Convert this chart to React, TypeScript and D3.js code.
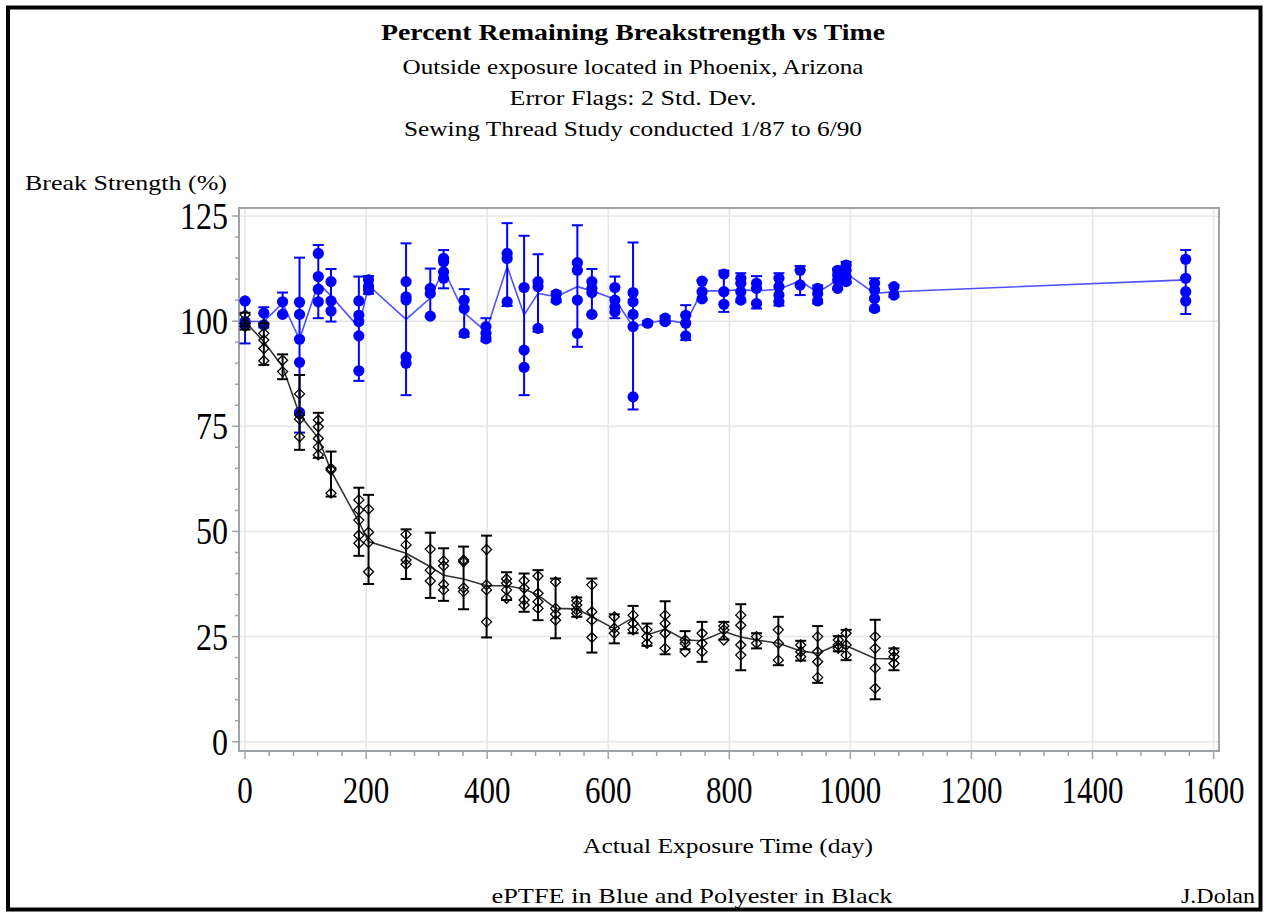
import React, { useEffect, useRef } from 'react';
import * as d3 from 'd3';

// ePTFE (blue): exposure day, mean line, error flag ends, individual specimens
const blueDays = [0, 31, 62, 90, 121, 142, 188, 204, 266, 306, 328, 362, 398, 433, 461, 484, 514, 549, 573, 611, 641, 665, 694, 728, 755, 791, 819, 845, 882, 917, 946, 979, 993, 1040, 1072, 1554];
const blueMean = [99.9, 99.9, 104.3, 95.7, 109, 106, 98.5, 108.5, 100.4, 105.5, 112.3, 102, 97.5, 113, 101.5, 106.6, 105.8, 108.2, 107.2, 105.2, 98.7, 99.5, 100.3, 99.5, 107.2, 107.2, 107.5, 107.2, 107.6, 109.6, 106.8, 109.8, 111.4, 106.6, 107, 109.8];
const blueLow = [94.7, 98.5, 101.6, 73.5, 100.7, 99.9, 85.8, 106.5, 82.4, 101, 107.8, 96.3, 95.2, 103.6, 82.4, 97.5, 104.5, 93.9, 101.5, 100.7, 79, 99, 99.5, 95.5, 105, 102.2, 104.5, 103, 103.7, 106.2, 104.2, 107.5, 109, 102.5, 105.8, 101.7];
const blueHigh = [104.9, 103.3, 106.8, 115.1, 118.1, 112.4, 110.6, 110.7, 118.5, 112.5, 116.9, 107.6, 100.7, 123.3, 120.3, 115.9, 107, 122.8, 112.4, 110.6, 118.7, 100, 101.2, 103.8, 109.8, 112, 111.4, 110.7, 111.4, 113.1, 108.5, 112.5, 114.1, 110.2, 108.6, 116.9];
const bluePoints = [
  [104.8, 99.9, 99.1], [101.9, 99.1], [104.6, 101.6], [104.5, 101.6, 95.7, 90.2, 78.3],
  [116.1, 110.6, 107.6, 104.6], [109.4, 104.8, 102.4], [104.8, 101.4, 99.9, 96.5, 88.2],
  [109.8, 108.3, 107.4], [109.4, 105.8, 105, 91.5, 90], [107.8, 106.6, 101.2],
  [114.9, 114.1, 111.7, 110.2], [105, 103, 97.1], [98.7, 97.1, 95.8], [116.1, 114.9, 104.6],
  [108, 93.1, 89], [109.4, 108.2, 98.3], [106.4, 105], [113.9, 112.1, 105, 97.1],
  [109.4, 107.8, 106.8, 101.6], [108, 105, 103.4, 102.2], [106.8, 104.6, 101.6, 98.7, 82],
  [99.5], [100.7, 99.9], [101.4, 99.5, 96.5], [109.5, 107, 105.3], [111.2, 107, 104],
  [110.2, 109, 107, 105], [109, 107.8, 104.2], [110.2, 108.2, 106.2, 104.6], [112.1, 108.6],
  [107.8, 106.6, 104.8], [112.1, 111, 109.8, 107.8], [113.3, 112.1, 110.6, 109.4],
  [109, 107.4, 105.4, 103], [108.2, 106.2], [114.7, 110.2, 107, 104.8],
];

// Polyester (black)
const blackDays = [0, 31, 62, 90, 121, 142, 188, 204, 266, 306, 328, 361, 399, 432, 461, 484, 513, 548, 573, 610, 641, 664, 694, 727, 755, 791, 819, 845, 881, 918, 946, 980, 993, 1041, 1072];
const blackMean = [99.9, 95.1, 89.2, 77.8, 72.2, 64.4, 52.3, 47.6, 44.8, 41.6, 39.6, 38.7, 37.1, 37.1, 36.3, 34.9, 31.7, 31.6, 29.7, 26.9, 29.5, 25.4, 26.8, 24.2, 24, 26.2, 24.9, 24.2, 23.4, 21.6, 21, 23.2, 22.8, 19.8, 19.7];
const blackLow = [98, 89.6, 86.2, 69.4, 67.5, 58.3, 44.2, 37.5, 38.7, 34.2, 33.5, 31.5, 24.8, 33.7, 30.9, 28.9, 24.6, 29.7, 21.2, 23.4, 25.8, 22.8, 20.8, 22, 19, 24.3, 17, 22.2, 18.2, 19.3, 14, 21.5, 19.4, 10.1, 17];
const blackHigh = [102, 99.5, 92.1, 87.2, 78.2, 69, 60.4, 58.7, 50.5, 49.7, 46, 46.4, 49, 40.3, 40, 40.8, 38.8, 34.3, 38.8, 30.3, 32.3, 28.1, 33.4, 26.3, 28.5, 28.5, 32.7, 25.8, 29.7, 24, 27.5, 25.1, 26.6, 29, 22.2];
const blackPoints = [
  [101.5, 99.5, 98.7], [99.1, 97.1, 95.5, 93.5, 90.6], [90.7, 88], [82.7, 77.7, 76.7, 72.5],
  [76.5, 74.9, 72.1, 70.1, 68.2], [65, 64.6, 59.1], [57.5, 55.1, 52.7, 49.1, 47.2],
  [55.3, 49.8, 47.4, 40.4], [49.3, 46.8, 43.2, 42.2], [45.8, 40.8, 38.2], [43, 41.8, 37.4, 36.1],
  [43.2, 42.8, 36.6, 35.7], [45.7, 37.3, 36.1, 28.5], [38.7, 37.7, 36.1, 34.1],
  [38.3, 36.5, 33.7, 32.5], [39.4, 35.3, 33.3, 31.7], [38, 31.7, 30.3, 28.9],
  [33.5, 32.5, 31.3, 30.5], [37.3, 30.9, 28.9, 24.8], [29.7, 27, 25.8], [30.1, 28.1, 26.6],
  [26.6, 25, 23.4], [30.1, 28.1, 25.8, 22.2], [24.2, 23.4, 21.4], [25.8, 23.4, 21.4],
  [27.5, 26.6, 24.2], [30.1, 27.7, 23, 20.6], [25, 23.4], [26.6, 23.4, 19.4], [23, 21.4, 20.2],
  [25, 21.4, 19, 15.3], [24.2, 23, 22.2], [25.8, 23, 20.6], [25, 22.2, 17.5, 12.7], [21.4, 20.2, 18.6],
];

const xTicks = [0, 200, 400, 600, 800, 1000, 1200, 1400, 1600];
const yTicks = [0, 25, 50, 75, 100, 125];
const titleLines = [
  'Outside exposure located in Phoenix, Arizona',
  'Error Flags: 2 Std. Dev.',
  'Sewing Thread Study conducted 1/87 to 6/90',
];

const W = 1266;
const H = 914;
const FONT = '"Liberation Serif", "DejaVu Serif", serif';

export default function App() {
  const ref = useRef<SVGSVGElement>(null);

  useEffect(() => {
    const svg = d3.select(ref.current);
    svg.selectAll('*').remove();

    const left = 239, right = 1219, top = 208, bottom = 751;
    const x = d3.scaleLinear().domain([-10, 1609]).range([left, right]);
    const y = d3.scaleLinear().domain([-2.2, 126.9]).range([bottom, top]);

    svg.append('rect').attr('width', W).attr('height', H).attr('fill', '#fff');
    svg.append('rect')
      .attr('x', 8).attr('y', 7.5).attr('width', 1252.5).attr('height', 902)
      .attr('fill', 'none').attr('stroke', '#000').attr('stroke-width', 4);

    // titles
    svg.append('text')
      .attr('x', 633).attr('y', 40).attr('text-anchor', 'middle')
      .attr('font-family', FONT).attr('font-size', 23).attr('font-weight', 'bold')
      .attr('textLength', 504).attr('lengthAdjust', 'spacingAndGlyphs')
      .text('Percent Remaining Breakstrength vs Time');
    const subWidths = [461, 247, 458];
    titleLines.forEach((t, i) => {
      svg.append('text')
        .attr('x', 633).attr('y', 74 + i * 31).attr('text-anchor', 'middle')
        .attr('font-family', FONT).attr('font-size', 21)
        .attr('textLength', subWidths[i]).attr('lengthAdjust', 'spacingAndGlyphs')
        .text(t);
    });

    svg.append('text')
      .attr('x', 25).attr('y', 190)
      .attr('font-family', FONT).attr('font-size', 21)
      .attr('textLength', 202).attr('lengthAdjust', 'spacingAndGlyphs')
      .text('Break Strength (%)');

    // grid
    const g = svg.append('g');
    g.selectAll('line.gx').data(xTicks).enter().append('line')
      .attr('x1', d => x(d)).attr('x2', d => x(d)).attr('y1', top).attr('y2', bottom)
      .attr('stroke', '#e6e6e6').attr('stroke-width', 1.5);
    g.selectAll('line.gy').data(yTicks).enter().append('line')
      .attr('y1', d => y(d)).attr('y2', d => y(d)).attr('x1', left).attr('x2', right)
      .attr('stroke', '#e6e6e6').attr('stroke-width', 1.5);

    // ticks
    const axisColor = '#9ea3a8';
    const minorX = d3.range(0, 1601, 40).filter(v => v % 200 !== 0);
    const minorY = d3.range(0, 126, 5).filter(v => v % 25 !== 0);
    g.selectAll('line.tx').data(xTicks).enter().append('line')
      .attr('x1', d => x(d)).attr('x2', d => x(d)).attr('y1', bottom).attr('y2', bottom + 8)
      .attr('stroke', axisColor).attr('stroke-width', 1.5);
    g.selectAll('line.mx').data(minorX).enter().append('line')
      .attr('x1', d => x(d)).attr('x2', d => x(d)).attr('y1', bottom).attr('y2', bottom + 5)
      .attr('stroke', axisColor).attr('stroke-width', 1.5);
    g.selectAll('line.ty').data(yTicks).enter().append('line')
      .attr('y1', d => y(d)).attr('y2', d => y(d)).attr('x1', left - 7).attr('x2', left)
      .attr('stroke', axisColor).attr('stroke-width', 1.5);
    g.selectAll('line.my').data(minorY).enter().append('line')
      .attr('y1', d => y(d)).attr('y2', d => y(d)).attr('x1', left - 4).attr('x2', left)
      .attr('stroke', axisColor).attr('stroke-width', 1.5);
    g.append('rect')
      .attr('x', left).attr('y', top).attr('width', right - left).attr('height', bottom - top)
      .attr('fill', 'none').attr('stroke', axisColor).attr('stroke-width', 2);

    g.selectAll('text.xl').data(xTicks).enter().append('text')
      .attr('x', d => x(d)).attr('y', 803).attr('text-anchor', 'middle')
      .attr('font-family', FONT).attr('font-size', 37)
      .attr('textLength', d => String(d).length * 15.5).attr('lengthAdjust', 'spacingAndGlyphs')
      .text(d => String(d));
    g.selectAll('text.yl').data(yTicks).enter().append('text')
      .attr('x', 228).attr('y', d => y(d) + 13).attr('text-anchor', 'end')
      .attr('font-family', FONT).attr('font-size', 37)
      .attr('textLength', d => String(d).length * 16).attr('lengthAdjust', 'spacingAndGlyphs')
      .text(d => String(d));

    svg.append('text')
      .attr('x', 728).attr('y', 853).attr('text-anchor', 'middle')
      .attr('font-family', FONT).attr('font-size', 21)
      .attr('textLength', 290).attr('lengthAdjust', 'spacingAndGlyphs')
      .text('Actual Exposure Time (day)');
    svg.append('text')
      .attr('x', 692).attr('y', 903).attr('text-anchor', 'middle')
      .attr('font-family', FONT).attr('font-size', 21)
      .attr('textLength', 401).attr('lengthAdjust', 'spacingAndGlyphs')
      .text('ePTFE in Blue and Polyester in Black');
    svg.append('text')
      .attr('x', 1255).attr('y', 903).attr('text-anchor', 'end')
      .attr('font-family', FONT).attr('font-size', 21)
      .attr('textLength', 74).attr('lengthAdjust', 'spacingAndGlyphs')
      .text('J.Dolan');

    const drawSeries = (
      days: number[], mean: number[], lo: number[], hi: number[], pts: number[][],
      color: string, lineColor: string, marker: 'circle' | 'diamond',
    ) => {
      const s = svg.append('g');
      const line = d3.line<number>().x((_, i) => x(days[i])).y(d => y(d));
      s.append('path').datum(mean).attr('d', line)
        .attr('fill', 'none').attr('stroke', lineColor).attr('stroke-width', 1.6);
      const idx = d3.range(days.length);
      s.selectAll('line.eb').data(idx).enter().append('line')
        .attr('x1', i => x(days[i])).attr('x2', i => x(days[i]))
        .attr('y1', i => y(lo[i])).attr('y2', i => y(hi[i]))
        .attr('stroke', color).attr('stroke-width', 2);
      [lo, hi].forEach(arr => {
        s.selectAll(null).data(idx).enter().append('line')
          .attr('x1', i => x(days[i]) - 5.5).attr('x2', i => x(days[i]) + 5.5)
          .attr('y1', i => y(arr[i])).attr('y2', i => y(arr[i]))
          .attr('stroke', color).attr('stroke-width', 2);
      });
      const flat = pts.flatMap((p, i) => p.map(v => ({ t: days[i], v })));
      if (marker === 'circle') {
        s.selectAll('circle').data(flat).enter().append('circle')
          .attr('cx', d => x(d.t)).attr('cy', d => y(d.v)).attr('r', 5.6)
          .attr('fill', color);
      } else {
        s.selectAll('path.pt').data(flat).enter().append('path')
          .attr('d', d => {
            const cx = x(d.t), cy = y(d.v), r = 5;
            return `M${cx},${cy - r}L${cx + r},${cy}L${cx},${cy + r}L${cx - r},${cy}Z`;
          })
          .attr('fill', 'none').attr('stroke', color).attr('stroke-width', 1.3);
      }
    };

    drawSeries(blueDays, blueMean, blueLow, blueHigh, bluePoints, '#0000ff', '#5050ff', 'circle');
    drawSeries(blackDays, blackMean, blackLow, blackHigh, blackPoints, '#000000', '#333333', 'diamond');
  }, []);

  return (
    <svg ref={ref} width={W} height={H}
      style={{ position: 'absolute', left: 0, top: 0, display: 'block' }} />
  );
}
